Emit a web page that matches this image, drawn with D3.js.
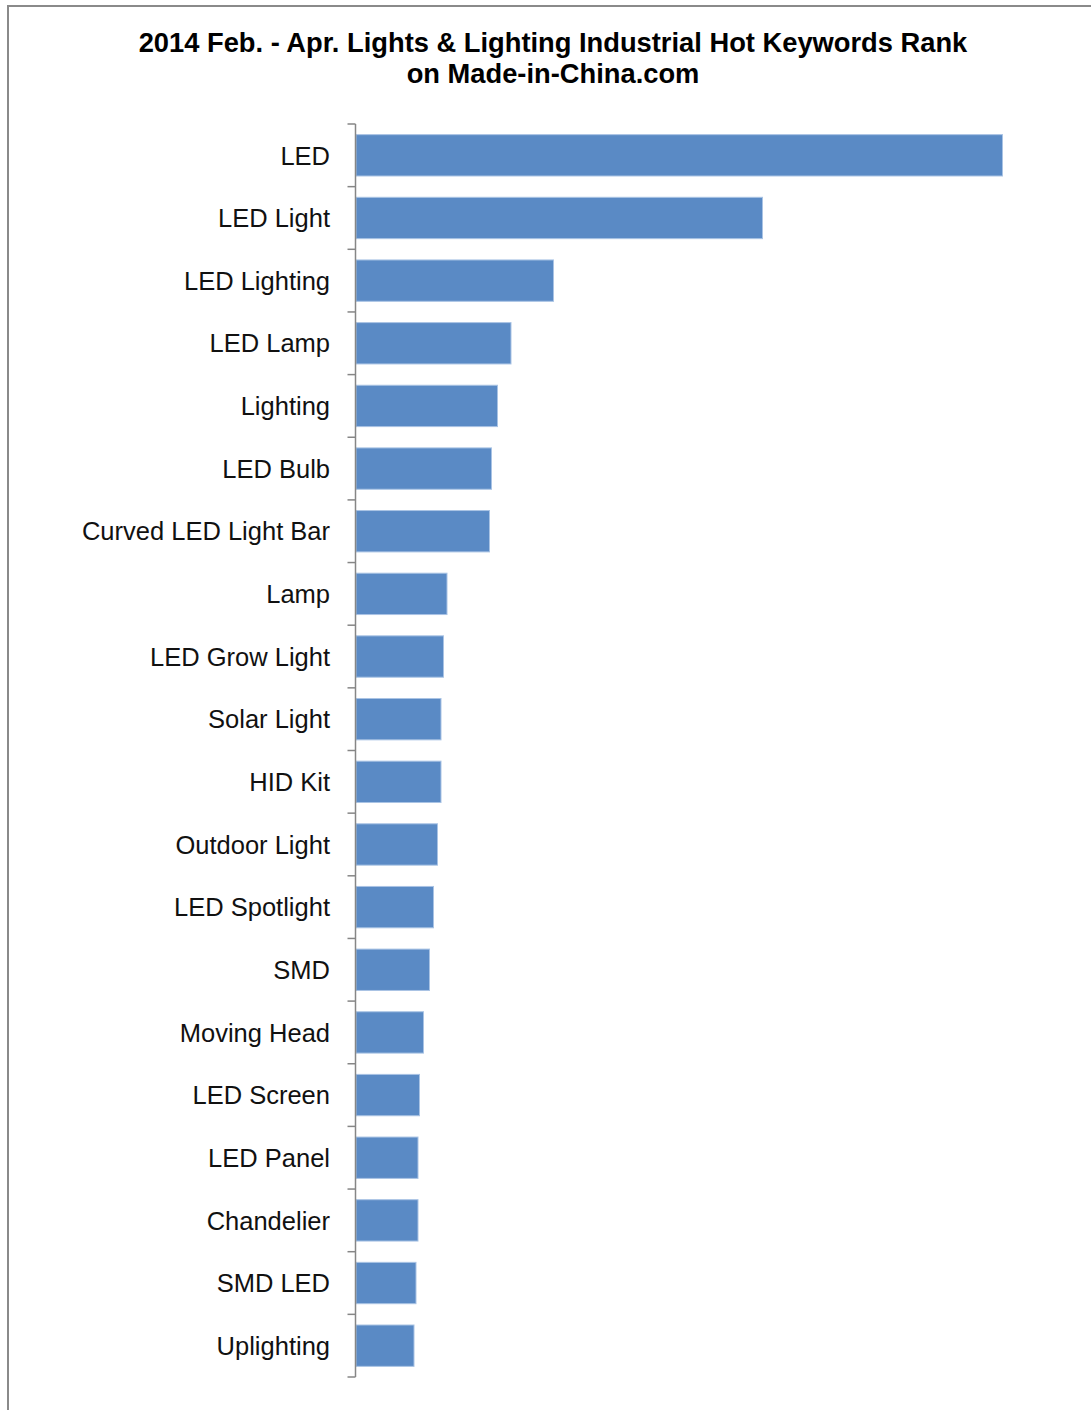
<!DOCTYPE html>
<html>
<head>
<meta charset="utf-8">
<script src="https://cdn.jsdelivr.net/npm/d3@7"></script>
<style>
  html, body { margin: 0; padding: 0; background: #fff; }
  svg { display: block; }
</style>
</head>
<body>
<div id="chart"></div>
<script>
const categories = [
  "LED", "LED Light", "LED Lighting", "LED Lamp", "Lighting", "LED Bulb",
  "Curved LED Light Bar", "Lamp", "LED Grow Light", "Solar Light", "HID Kit",
  "Outdoor Light", "LED Spotlight", "SMD", "Moving Head", "LED Screen",
  "LED Panel", "Chandelier", "SMD LED", "Uplighting"
];
const values = [
  647, 407, 198, 155.5, 142, 136, 134, 91.5, 88, 85.5, 85.5,
  82, 78, 74, 68, 64, 62.5, 62.5, 60.5, 58.5
];
const titleLines = [
  "2014 Feb. - Apr. Lights & Lighting Industrial Hot Keywords Rank",
  "on Made-in-China.com"
];

(function () {
const W = 1091, H = 1410;
const svg = d3.select("#chart").append("svg").attr("width", W).attr("height", H);

// outer chart border (top and left visible)
svg.append("rect")
  .attr("x", 8).attr("y", 6).attr("width", W + 50).attr("height", H + 50)
  .attr("fill", "#fff").attr("stroke", "#8a8a8a").attr("stroke-width", 2);

// title
svg.append("text")
  .attr("x", 553).attr("y", 52)
  .attr("text-anchor", "middle")
  .style("font-family", "'Liberation Sans', Arial, sans-serif")
  .style("font-weight", "bold").style("font-size", "27.3px").attr("fill", "#000")
  .selectAll("tspan").data(titleLines).join("tspan")
  .attr("x", 553).attr("dy", (d, i) => i === 0 ? 0 : 31)
  .text(d => d);

const axisX = 355.5;
const plotTop = 124, plotBottom = 1377;

const x = d3.scaleLinear().domain([0, 647]).range([axisX, 1002.5]);
const y = d3.scaleBand().domain(categories).range([plotTop, plotBottom])
  .paddingInner(0.34).paddingOuter(0.17);

// bars
svg.append("g").selectAll("rect").data(values).join("rect")
  .attr("x", x(0) + 0.5)
  .attr("y", (d, i) => y(categories[i]))
  .attr("width", d => x(d) - x(0) - 0.5)
  .attr("height", y.bandwidth())
  .attr("fill", "#5a8ac5")
  .attr("stroke", "#a9c3e4").attr("stroke-width", 1);

// axis line and ticks at category boundaries
const step = (plotBottom - plotTop) / categories.length;
const boundaries = d3.range(categories.length + 1).map(i => plotTop + i * step);
const ax = svg.append("g");
ax.append("line")
  .attr("x1", axisX).attr("x2", axisX).attr("y1", plotTop).attr("y2", plotBottom)
  .attr("stroke", "#868686").attr("stroke-width", 1.5);
ax.selectAll("line.tick").data(boundaries).join("line")
  .attr("class", "tick")
  .attr("x1", axisX - 8).attr("x2", axisX).attr("y1", d => d).attr("y2", d => d)
  .attr("stroke", "#868686").attr("stroke-width", 1.5);

// category labels
svg.append("g").selectAll("text").data(categories).join("text")
  .attr("x", 330)
  .attr("y", d => y(d) + y.bandwidth() / 2)
  .attr("dy", "0.36em")
  .attr("text-anchor", "end")
  .style("font-family", "'Liberation Sans', Arial, sans-serif")
  .style("font-size", "25.5px")
  .attr("fill", "#111")
  .text(d => d);
})();
</script>
</body>
</html>
